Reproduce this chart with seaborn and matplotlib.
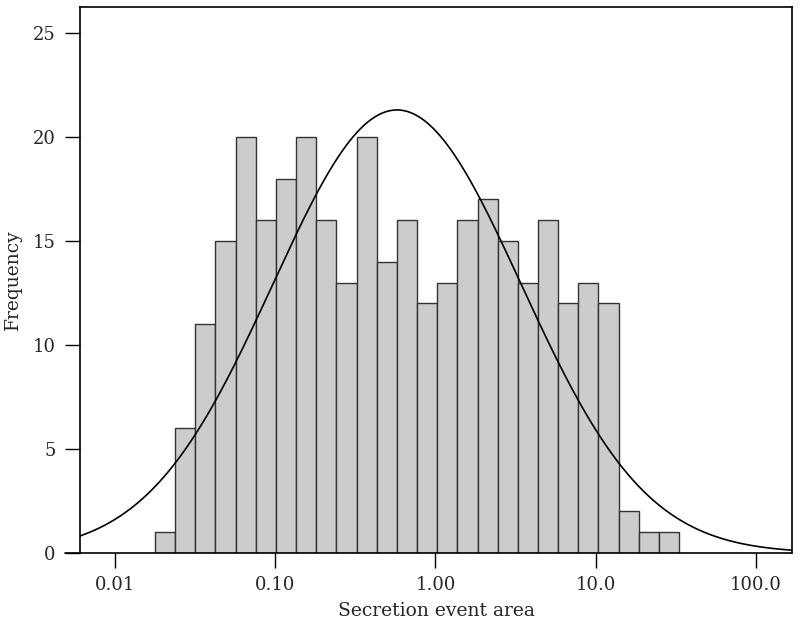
import numpy as np
import pandas as pd
import matplotlib
matplotlib.use("Agg")
import matplotlib.pyplot as plt
import matplotlib.lines as mlines
import seaborn as sns

# ---- data ----
counts = [1, 6, 11, 15, 20, 16, 18, 20, 16, 13, 20, 14, 16,
          12, 13, 16, 17, 15, 13, 16, 12, 13, 12, 2, 1, 1]
log_first_edge = -1.750     # log10 of left edge of first bin
log_last_edge = 1.520       # log10 of right edge of last bin
fit_mean_log = -0.240       # fitted normal (on log10 scale)
fit_sd_log = 0.775
xtick_values = [0.01, 0.1, 1.0, 10.0, 100.0]
xtick_labels = ["0.01", "0.10", "1.00", "10.0", "100.0"]
ytick_values = [0, 5, 10, 15, 20, 25]
x_label = "Secretion event area"
y_label = "Frequency"

# ---- build ----
n_bins = len(counts)
log_edges = np.linspace(log_first_edge, log_last_edge, n_bins + 1)
log_centers = (log_edges[:-1] + log_edges[1:]) / 2
df = pd.DataFrame({"area": 10 ** log_centers, "n": counts})

sns.set_style("white")
plt.rcParams["font.family"] = ["DejaVu Serif"]

fig = plt.figure(figsize=(8, 6.28), dpi=100)
ax = fig.add_axes([0.1, 0.1194, 0.89, 0.8695])

sns.histplot(data=df, x="area", weights="n", bins=list(log_edges), log_scale=True,
             color="#cccccc", alpha=1.0, edgecolor="#333333", linewidth=1.0,
             ax=ax)

# fitted normal curve on log scale
bw = log_edges[1] - log_edges[0]
N = sum(counts)
xs_log = np.linspace(-2.25, 2.25, 400)
ys = N * bw / (fit_sd_log * np.sqrt(2 * np.pi)) * np.exp(-0.5 * ((xs_log - fit_mean_log) / fit_sd_log) ** 2)
sns.lineplot(x=10 ** xs_log, y=ys, color="black", linewidth=1.2, ax=ax)

ax.set_xlim(10 ** -2.218, 10 ** 2.2247)
ax.set_ylim(0, 26.25)
ax.set_xticks(xtick_values)
ax.set_xticklabels(xtick_labels)
ax.xaxis.set_minor_locator(matplotlib.ticker.NullLocator())
ax.set_yticks(ytick_values)
ax.set_yticklabels([str(v) for v in ytick_values])

for s in ax.spines.values():
    s.set_visible(True)
    s.set_color("black")
    s.set_linewidth(1.2)
ax.spines["bottom"].set_visible(False)
# bottom axis line extending slightly left of the frame
ax.add_line(mlines.Line2D([-0.021, 1.0], [0, 0], transform=ax.transAxes,
                          color="black", linewidth=1.2, clip_on=False))

ax.tick_params(axis="both", which="major", direction="out", length=10.5,
               width=1.0, color="black", labelsize=13, bottom=True, left=True)
ax.tick_params(axis="x", pad=6)
ax.tick_params(axis="y", pad=7)

ax.set_xlabel(x_label, fontsize=13.5, labelpad=6)
ax.set_ylabel(y_label, fontsize=13.5, labelpad=8)

fig.savefig("out.png", dpi=100)
